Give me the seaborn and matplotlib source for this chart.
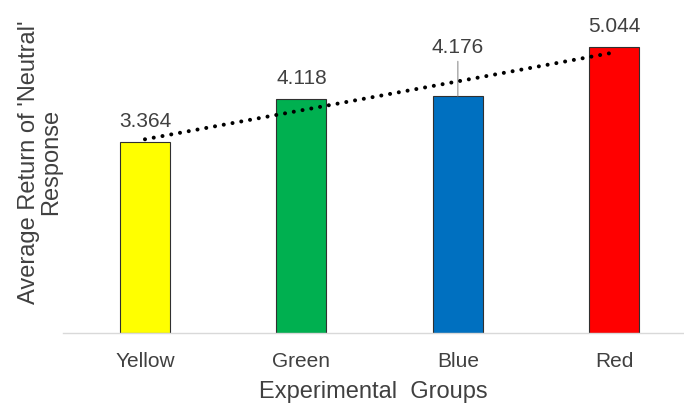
import matplotlib
matplotlib.use("Agg")
import matplotlib.pyplot as plt
import seaborn as sns
import numpy as np
import pandas as pd

groups = ["Yellow", "Green", "Blue", "Red"]
values = [3.364, 4.118, 4.176, 5.044]
bar_colors = ["#FFFF00", "#00B050", "#0070C0", "#FF0000"]
value_labels = ["3.364", "4.118", "4.176", "5.044"]

sns.set_style("white")
plt.rcParams["font.family"] = ["Liberation Sans", "DejaVu Sans"]

text_color = "#404040"

fig = plt.figure(figsize=(6.84, 4.05), dpi=100)
ax = fig.add_axes([63 / 684, 72 / 405, 1 - 63 / 684, 328 / 405])

df = pd.DataFrame({"group": groups, "value": values})
sns.barplot(data=df, x="group", y="value", hue="group", palette=bar_colors,
            width=0.32, edgecolor="#303030", linewidth=0.8, legend=False,
            saturation=1, ax=ax)

# linear trend across the four groups
pos = np.arange(len(values))
sns.regplot(x=pos, y=np.array(values), scatter=False, ci=None, truncate=True,
            color="black", ax=ax,
            line_kws=dict(linewidth=2.9, linestyle=(0, (0.01, 2.2)),
                          dash_capstyle="round", zorder=5))

ax.set_xlim(-0.524, 3.446)
ax.set_ylim(0, 5.775)

# value labels; the Blue label sits higher with a leader line
for i, (v, lab) in enumerate(zip(values, value_labels)):
    if i == 2:
        ax.annotate(lab, xy=(i, v), xytext=(0, 31), textcoords="offset points",
                    ha="center", va="baseline", fontsize=15, color=text_color,
                    annotation_clip=False,
                    arrowprops=dict(arrowstyle="-", color="#A6A6A6", lw=1,
                                    shrinkA=1, shrinkB=0))
    else:
        ax.annotate(lab, xy=(i, v), xytext=(0, 10.8), textcoords="offset points",
                    ha="center", va="baseline", fontsize=15, color=text_color,
                    annotation_clip=False)

for s in ["left", "top", "right"]:
    ax.spines[s].set_visible(False)
ax.spines["bottom"].set_color("#D9D9D9")
ax.spines["bottom"].set_linewidth(1.0)

ax.set_yticks([])
ax.tick_params(axis="x", length=0, pad=14, labelsize=15, labelcolor=text_color)

ax.set_xlabel("Experimental  Groups", fontsize=17, color=text_color, labelpad=7)
ax.set_ylabel("Average Return of 'Neutral'\nResponse", fontsize=17,
              color=text_color, linespacing=1.0)
ax.yaxis.label.set_va("center")
ax.yaxis.set_label_coords(-0.037, 0.521)

fig.savefig("out.png", dpi=100)
